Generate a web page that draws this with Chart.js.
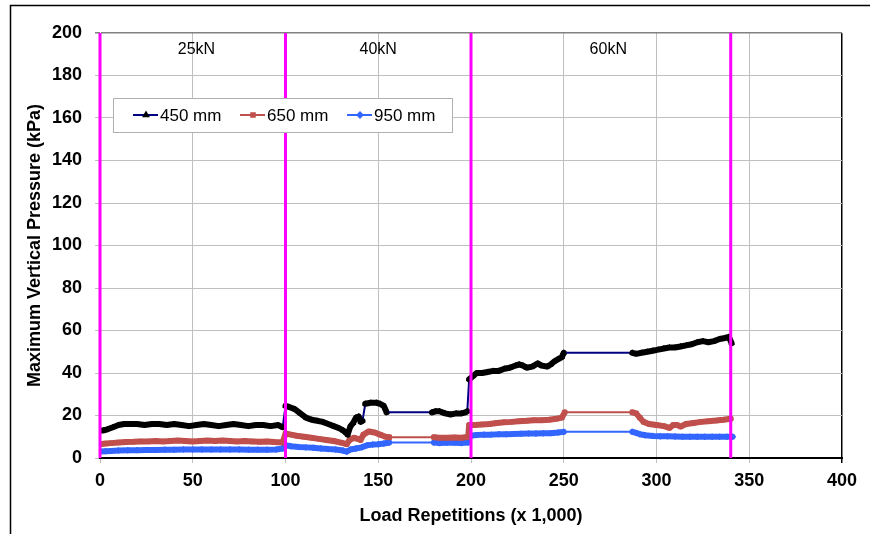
<!DOCTYPE html>
<html>
<head>
<meta charset="utf-8">
<script src="https://cdn.jsdelivr.net/npm/chart.js@4.4.1/dist/chart.umd.min.js"></script>
<style>
  html, body { margin: 0; padding: 0; background: #fff; }
  #chart { display: block; }
</style>
</head>
<body>
<canvas id="chart" width="870" height="534"></canvas>
<script>
// values (x = load repetitions x1000, y = kPa)
const seriesNames = ['450 mm', '650 mm', '950 mm'];

const s450 = [
  [0,13],[2,13],[4,13.5],[7,14.5],[10,15.5],[13,16],[16,16],[20,16],[24,15.5],[28,16],[32,16],[36,15.5],
  [40,16],[44,15.5],[48,15],[52,15.5],[56,16],[60,15.5],[64,15],[68,15.5],[72,16],[76,15.5],[80,15],
  [84,15.5],[88,15.5],[92,15],[96,15.5],[98.5,14.5],
  [100,24.5],[102,24],[105,23],[108,21],[111,19],[114,18],[117,17.5],[120,17],[123,16],[126,15],[129,14],
  [131,13],[132.5,12],[133.5,11],[135,15],[136.5,16.5],[138,19],[139.5,19.5],[140.5,17],[141.5,17.5],
  [143,25.5],[146,26],[149,26],[151,25.5],[153,24.5],[154.5,21.5],
  [179,21.5],[181,22],[183,22],[186,21],[189,20.5],[192,21],[195,21],[197,21.5],[198,22],
  [199,37],[201,38.5],[203,40],[206,40],[209,40.5],[212,41],[215,41],[218,42],[221,42.5],[224,43.5],
  [226,44],[228,43.5],[230,42.5],[233,43],[236,44.5],[238,43.5],[241,43],[243,44],[245,45.5],[247,46.5],
  [249,47.5],[250,49.5],
  [287,49.5],[289,49],[292,49.5],[295,50],[298,50.5],[301,51],[304,51.5],[307,52],[310,52],[313,52.5],
  [316,53],[319,53.5],[322,54.5],[325,55],[328,54.5],[331,55],[334,56],[337,56.5],[339,57],[340.5,54]
];

const s650 = [
  [0,6.5],[3,6.8],[6,7],[10,7.3],[14,7.5],[18,7.6],[22,7.8],[26,7.8],[30,8],[34,7.8],[38,8],[42,8.2],
  [46,8],[50,7.8],[54,8],[58,8.2],[62,8],[66,8.2],[70,8],[74,7.8],[78,8],[82,7.8],[86,7.6],[90,7.8],
  [94,7.5],[98.5,7.3],
  [100,11.5],[103,11],[106,10.5],[110,10],[114,9.5],[118,9],[122,8.5],[126,8],[130,7.2],[133,6.5],
  [134.5,8.5],[137,9.5],[139,9],[140.5,8.5],[142,11],[145,12.5],[148,12],[151,11],[154,10],[156,9.8],
  [180,9.8],[183,9.5],[187,9.5],[191,9.7],[195,9.5],[198.5,10],
  [199,15.5],[202,15.5],[206,15.8],[210,16],[214,16.5],[218,16.8],[222,17],[226,17.3],[230,17.5],
  [234,17.8],[238,17.8],[242,18],[246,18.5],[249,19],[250.5,21.5],
  [287,21.5],[289,21],[291,19],[293,17],[296,16],[300,15.5],[304,15],[307,14.2],[309,15.5],[311,15.5],
  [313,14.8],[316,16],[320,16.5],[324,17],[328,17.3],[332,17.6],[336,18],[340,18.5]
];

const s950 = [
  [0,3],[3,3.2],[6,3.3],[10,3.5],[15,3.6],[20,3.7],[25,3.8],[30,3.8],[35,3.9],[40,3.9],[45,4],[50,4],
  [55,4],[60,4],[65,4],[70,4],[75,4],[80,3.9],[85,3.9],[90,3.9],[95,4],[98.5,4.5],
  [100,6],[103,5.5],[107,5.2],[111,5],[115,4.8],[119,4.5],[123,4.2],[127,4],[131,3.5],[133,3],[135,4],
  [138,4.5],[141,5],[144,6],[147,6.3],[150,6.5],[153,6.8],[156,7.3],
  [180,7.3],[183,7],[187,7.2],[191,7.2],[195,7],[198.5,7.3],
  [199.5,10.5],[203,10.8],[207,11],[211,11],[215,11.2],[219,11.2],[223,11.3],[227,11.4],[231,11.5],
  [235,11.5],[239,11.6],[243,11.7],[247,12],[250,12.3],
  [287,12.3],[289,11.8],[291,11.2],[294,10.7],[298,10.4],[302,10.2],[306,10.2],[310,10.1],[314,10],
  [318,10],[322,10],[326,10],[330,10],[334,10],[338,10],[341,10]
];

const stageBounds = [0, 100, 200, 340];
const stageLabels = ['25kN', '40kN', '60kN'];
const stageLabelX = [52, 150, 274];

const xMax = 400, xStep = 50;
const yMax = 200, yStep = 20;

const FONT = 'Liberation Sans, Arial, Helvetica, sans-serif';

function segLen(ctx) {
  return Math.hypot(ctx.p1.x - ctx.p0.x, ctx.p1.y - ctx.p0.y);
}

function series(label, pts, lineColor, markColor, style) {
  return {
    label,
    data: pts.map(p => ({ x: p[0], y: p[1] })),
    showLine: true,
    borderColor: markColor,
    borderWidth: 6,
    borderJoinStyle: 'round',
    borderCapStyle: 'round',
    backgroundColor: markColor,
    pointStyle: style,
    pointRadius: 3,
    pointBorderWidth: 1,
    pointBorderColor: markColor,
    pointBackgroundColor: markColor,
    order: 1,
    segment: {
      borderColor: ctx => segLen(ctx) > 14 ? lineColor : markColor,
      borderWidth: ctx => segLen(ctx) > 14 ? 2 : 6
    },
    legendLine: lineColor
  };
}

const datasets = [];
stageBounds.forEach(b => {
  datasets.push({
    label: 'stage',
    data: [{ x: b, y: 0 }, { x: b, y: yMax }],
    showLine: true,
    borderColor: '#ff00ff',
    borderWidth: 3,
    pointRadius: 0,
    clip: false,
    order: 0,
    isBound: true
  });
});
datasets.push(series(seriesNames[0], s450, '#000080', '#000000', 'triangle'));
datasets.push(series(seriesNames[1], s650, '#c0504d', '#c0504d', 'rect'));
datasets.push(series(seriesNames[2], s950, '#3366ff', '#3366ff', 'rectRot'));

const framePlugin = {
  id: 'frame',
  beforeDraw(chart) {
    const ctx = chart.ctx;
    ctx.save();
    ctx.fillStyle = '#fff';
    ctx.fillRect(0, 0, chart.width, chart.height);
    ctx.strokeStyle = '#000';
    ctx.lineWidth = 1.5;
    ctx.beginPath();
    ctx.moveTo(10.5, chart.height);
    ctx.lineTo(10.5, 5.5);
    ctx.lineTo(chart.width, 5.5);
    ctx.stroke();
    ctx.restore();
  }
};

const overlayPlugin = {
  id: 'overlay',
  afterDatasetsDraw(chart) {
    const { ctx, chartArea, scales } = chart;
    ctx.save();
    // stage labels
    ctx.fillStyle = '#000';
    ctx.font = '16px ' + FONT;
    ctx.textAlign = 'center';
    ctx.textBaseline = 'middle';
    stageLabels.forEach((t, i) => {
      ctx.fillText(t, scales.x.getPixelForValue(stageLabelX[i]), chartArea.top + 17);
    });
    // legend box
    const x0 = chartArea.left + 13, y0 = chartArea.top + 65;
    ctx.fillStyle = '#fff';
    ctx.fillRect(x0, y0, 339, 34);
    ctx.strokeStyle = '#b0b0b0';
    ctx.lineWidth = 1;
    ctx.strokeRect(x0 + 0.5, y0 + 0.5, 339, 34);
    const items = chart.data.datasets.filter(d => !d.isBound);
    items.forEach((d, i) => {
      const lx = x0 + 20 + i * 107, ly = y0 + 17;
      ctx.strokeStyle = d.legendLine;
      ctx.lineWidth = 2;
      ctx.beginPath();
      ctx.moveTo(lx, ly);
      ctx.lineTo(lx + 25, ly);
      ctx.stroke();
      ctx.fillStyle = d.pointBackgroundColor;
      ctx.strokeStyle = d.pointBorderColor;
      Chart.helpers.drawPoint(ctx, { pointStyle: d.pointStyle, radius: 2.5, rotation: 0, borderWidth: 1 }, lx + 13, ly);
      ctx.fillStyle = '#000';
      ctx.font = '17px ' + FONT;
      ctx.textAlign = 'left';
      ctx.textBaseline = 'middle';
      ctx.fillText(d.label, lx + 27, ly + 1);
    });
    ctx.restore();
  }
};

const tickFont = { family: FONT, size: 18, weight: 'bold' };

new Chart(document.getElementById('chart'), {
  type: 'scatter',
  data: { datasets },
  options: {
    responsive: false,
    animation: false,
    layout: { padding: { top: 33, right: 28, left: 0, bottom: 0 } },
    plugins: {
      legend: { display: false },
      tooltip: { enabled: false }
    },
    scales: {
      x: {
        type: 'linear',
        min: 0,
        max: xMax,
        ticks: { stepSize: xStep, color: '#000', font: tickFont, padding: 7, maxRotation: 0 },
        grid: {
          color: ctx => ctx.tick && ctx.tick.value === xMax ? '#000' : '#c0c0c0',
          lineWidth: ctx => ctx.tick && ctx.tick.value === xMax ? 1.5 : 1,
          tickLength: 5
        },
        border: { color: '#000', width: 2 },
        title: {
          display: true,
          text: 'Load Repetitions (x 1,000)',
          color: '#000',
          font: tickFont,
          padding: { top: 0, bottom: 7 }
        },
        afterFit: s => { s.height = 76; }
      },
      y: {
        type: 'linear',
        min: 0,
        max: yMax,
        ticks: { stepSize: yStep, color: '#000', font: tickFont, padding: 13 },
        grid: {
          color: ctx => ctx.tick && ctx.tick.value === yMax ? '#808080' : '#c0c0c0',
          lineWidth: ctx => ctx.tick && ctx.tick.value === yMax ? 1.5 : 1,
          tickLength: 5
        },
        border: { color: '#000', width: 1 },
        title: {
          display: true,
          text: 'Maximum Vertical Pressure (kPa)',
          color: '#000',
          font: tickFont,
          padding: { top: 24, bottom: 0 }
        },
        afterFit: s => { s.width = 100; }
      }
    }
  },
  plugins: [framePlugin, overlayPlugin]
});
</script>
</body>
</html>
